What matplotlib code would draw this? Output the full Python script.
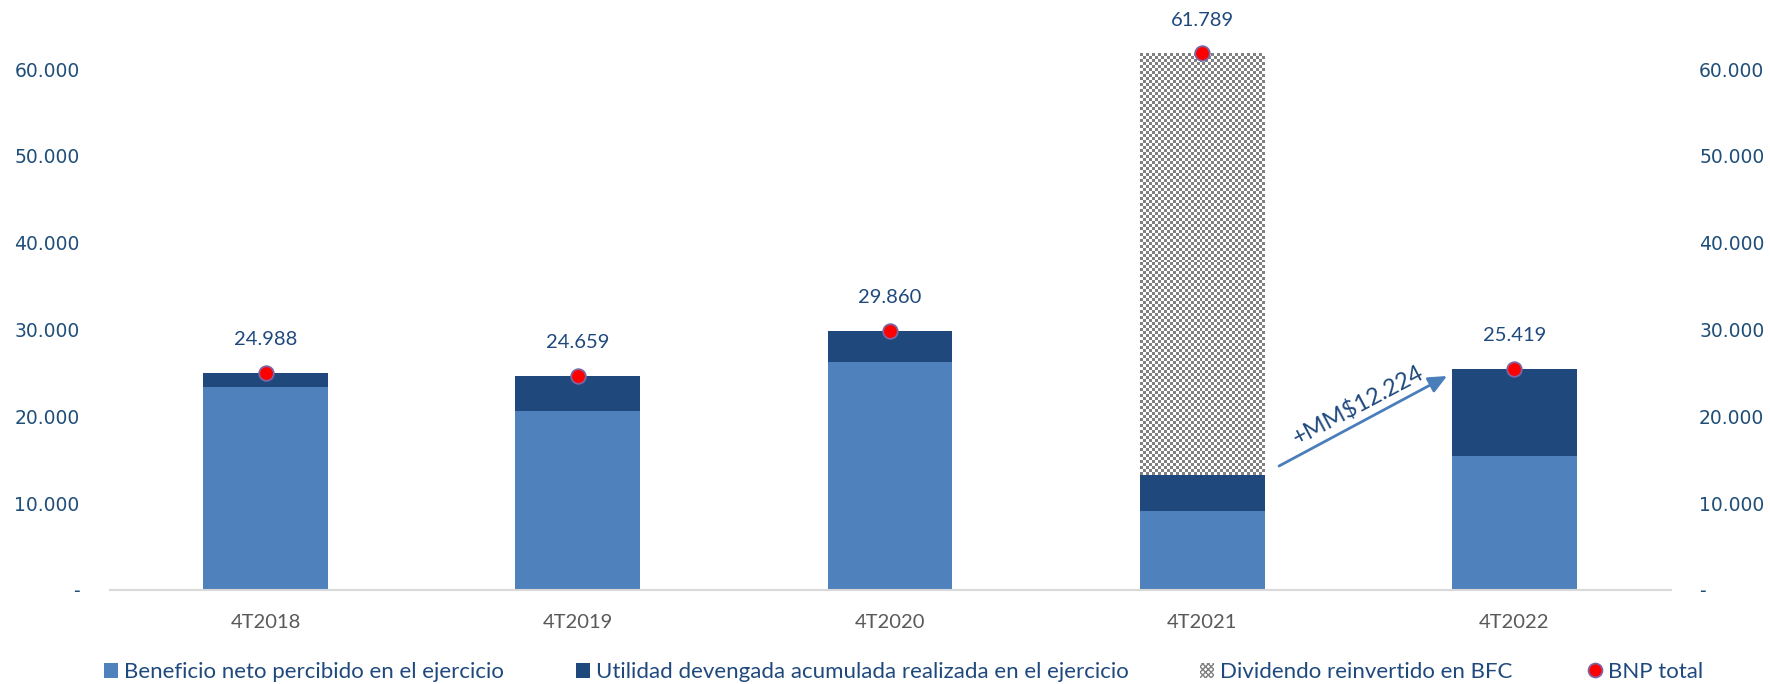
import numpy as np
import matplotlib
matplotlib.use("Agg")
import matplotlib.pyplot as plt
from matplotlib.patches import Patch
from matplotlib.lines import Line2D
from matplotlib.ticker import FuncFormatter

# ---- data ----
categories = ["4T2018", "4T2019", "4T2020", "4T2021", "4T2022"]
beneficio_neto = [23380, 20650, 26230, 9090, 15450]
utilidad_devengada = [1608, 4009, 3630, 4105, 9969]
dividendo_reinvertido = [0, 0, 0, 48594, 0]
bnp_total = [24988, 24659, 29860, 61789, 25419]
bnp_labels = ["24.988", "24.659", "29.860", "61.789", "25.419"]
y_ticks = [0, 10000, 20000, 30000, 40000, 50000, 60000]
arrow_text = "+MM$12.224"
legend_labels = ["Beneficio neto percibido en el ejercicio",
                 "Utilidad devengada acumulada realizada en el ejercicio",
                 "Dividendo reinvertido en BFC",
                 "BNP total"]

# ---- style ----
C_LIGHT = "#4F81BD"
C_DARK = "#1F497D"
C_TEXT = "#1F497D"
C_TICK = "#1F4E79"
C_XTICK = "#595959"
LBL_FONT = "Lato"

W, H, DPI = 1770, 684, 100
fig = plt.figure(figsize=(W / DPI, H / DPI), dpi=DPI)
ax = fig.add_axes([109.5 / W, 1 - 590 / H, (1670.6 - 109.5) / W, 564.4 / H])

x = np.arange(len(categories))
bw = 0.4
b1 = ax.bar(x, beneficio_neto, bw, color=C_LIGHT, zorder=2)
bottom2 = np.array(beneficio_neto)
b2 = ax.bar(x, utilidad_devengada, bw, bottom=bottom2, color=C_DARK, zorder=2)
bottom3 = bottom2 + np.array(utilidad_devengada)
b3 = ax.bar(x, dividendo_reinvertido, bw, bottom=bottom3, color="white",
            edgecolor="#808080", hatch="xxxxxx", linewidth=0, zorder=2)

ax.set_xlim(-0.5, len(categories) - 0.5)
ax.set_ylim(0, 65000)

# checkerboard fill for the hatched (dividend) bar
fig.canvas.draw()
for rect, v in zip(b3.patches, dividendo_reinvertido):
    if v <= 0:
        continue
    bb = rect.get_window_extent()
    cell = 3.0
    nc = max(int(round(bb.width / cell)), 1)
    nr = max(int(round(bb.height / cell)), 1)
    checker = (np.add.outer(np.arange(nr), np.arange(nc)) % 2).astype(float)
    x0, y0 = rect.get_x(), rect.get_y()
    im = ax.imshow(checker, cmap=matplotlib.colors.ListedColormap(["#808080", "#FFFFFF"]),
                   extent=[x0, x0 + rect.get_width(), y0, y0 + rect.get_height()],
                   interpolation="nearest", aspect="auto", zorder=2.5)
    im.set_clip_path(rect)
ax.set_xlim(-0.5, len(categories) - 0.5)
ax.set_ylim(0, 65000)

# BNP total dots
ax.plot(x, bnp_total, linestyle="none", marker="o", markersize=10.5,
        markerfacecolor="#FF0000", markeredgecolor="#8064A2", markeredgewidth=1.3, zorder=4)
for xi, yi, lab in zip(x, bnp_total, bnp_labels):
    ax.annotate(lab, (xi, yi), xytext=(0, 24), textcoords="offset points",
                ha="center", va="center", fontsize=14.5, color=C_TEXT, family=LBL_FONT)

# arrow and annotation
ax.annotate("", xy=(3.784, 24645), xytext=(3.246, 14280),
            arrowprops=dict(arrowstyle="-|>,head_length=1.1,head_width=0.5",
                            color="#4A7EBB", lw=2, shrinkA=0, shrinkB=0), zorder=5)
ax.text(3.5, 21200, arrow_text, rotation=28, ha="center", va="center",
        fontsize=17, color=C_TEXT, family=LBL_FONT, rotation_mode="anchor")

# axes styling
for s in ["top", "left", "right"]:
    ax.spines[s].set_visible(False)
ax.spines["bottom"].set_color("#D9D9D9")
ax.spines["bottom"].set_linewidth(1.5)

fmt = FuncFormatter(lambda v, p: "-" if v == 0 else f"{int(v):,}".replace(",", "."))
ax.set_yticks(y_ticks)
ax.yaxis.set_major_formatter(fmt)
ax.tick_params(axis="y", length=0, pad=21.5, labelsize=13.5, labelcolor=C_TICK)
ax.set_xticks(x)
ax.set_xticklabels(categories, family=LBL_FONT)
ax.tick_params(axis="x", length=0, pad=17, labelsize=14.5, labelcolor=C_XTICK)

ax2 = ax.twinx()
ax2.set_ylim(ax.get_ylim())
ax2.set_yticks(y_ticks)
ax2.yaxis.set_major_formatter(fmt)
ax2.tick_params(axis="y", length=0, pad=20.5, labelsize=13.5, labelcolor=C_TICK)
for s in ["top", "left", "right", "bottom"]:
    ax2.spines[s].set_visible(False)

# legend (four entries, placed like the reference)
handles = [Patch(facecolor=C_LIGHT), Patch(facecolor=C_DARK),
           Patch(facecolor="white", edgecolor="#808080", hatch="xxxxxx", linewidth=0),
           Line2D([], [], linestyle="none", marker="o", markersize=10,
                  markerfacecolor="#FF0000", markeredgecolor="#8064A2", markeredgewidth=1.3)]
starts = [104, 576, 1200, 1588]
for h, lab, sx in zip(handles, legend_labels, starts):
    leg = fig.legend([h], [lab], loc="center left", bbox_to_anchor=(sx / W, 1 - 672 / H),
                     frameon=False, prop={"family": LBL_FONT, "size": 16},
                     handlelength=0.65, handleheight=0.65, handletextpad=0.25,
                     borderaxespad=0, borderpad=0)
    for t in leg.get_texts():
        t.set_color(C_TEXT)

fig.savefig("out.png", dpi=DPI)
